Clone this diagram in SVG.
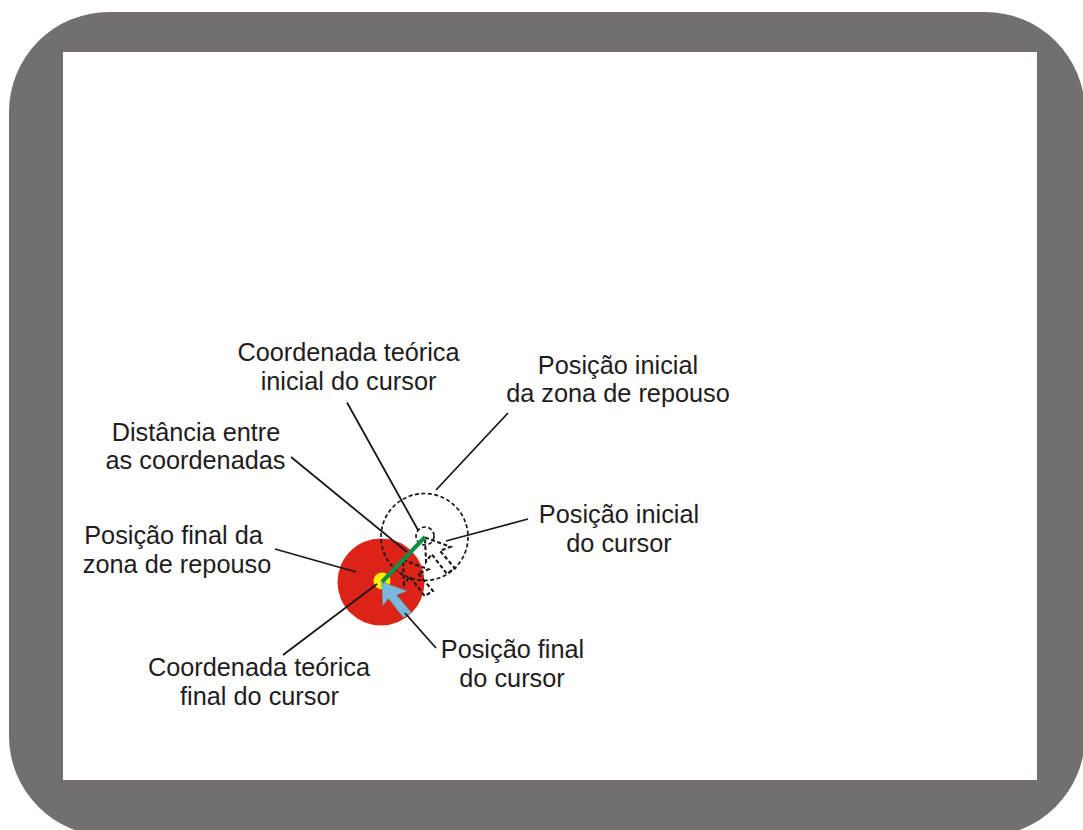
<svg xmlns="http://www.w3.org/2000/svg" width="1083" height="830" viewBox="0 0 1083 830">
<style>
text{font-family:"Liberation Sans",Arial,sans-serif;font-size:25.300px;fill:#1f1c1d;text-anchor:middle}
.c{stroke:#1a1718;stroke-width:1.800;fill:none}
.d{stroke:#1a1718;stroke-width:1.700;stroke-dasharray:4 2.500;fill:none}
.k{stroke:#1a1718;stroke-width:2.100;stroke-dasharray:4 2.500;fill:none}
</style>
<defs><path id="cur" d="M0 0L25.500 9.300L15 13.300L30 31L21.700 36L6.700 16.700L1 24.300Z"/></defs>
<g id="frame"><rect x="9" y="12" width="1076" height="824" rx="100" ry="100" fill="#736f70"/><rect x="63" y="52" width="974" height="728" fill="#fff"/></g>
<g id="zona-final"><circle cx="381" cy="582" r="43.500" fill="#dc2318"/></g>
<g id="zona-inicial"><circle cx="424.500" cy="537" r="43.500" class="d"/></g>
<g id="coord-inicial"><circle cx="425" cy="536" r="9" class="d"/></g>
<g id="coord-final"><circle cx="382" cy="581" r="8.500" fill="#ffed00"/></g>
<g id="cursor-inicial"><use href="#cur" x="425" y="537.500" class="k"/></g>
<g id="cursor-intermedio"><use href="#cur" x="403" y="560" class="k"/></g>
<g id="cursor-final"><use href="#cur" x="381.700" y="581.700" fill="#7ab8dc" stroke="#777" stroke-width=".5"/></g>
<g id="connectors">
<path class="c" d="M347 402.500L418 530M508 413L436 490M291 457L407 552M528 519L446 541M275 549L356 572M377 584L283 655M405 613L436 648"/>
<path d="M425 537L382 582" stroke="#0f8f45" stroke-width="4" fill="none"/>
</g>
<g id="labels">
<text x="348.500" y="361">Coordenada teórica</text>
<text x="348.500" y="390">inicial do cursor</text>
<text x="618" y="374">Posição inicial</text>
<text x="618" y="402">da zona de repouso</text>
<text x="196" y="441">Distância entre</text>
<text x="195.500" y="469">as coordenadas</text>
<text x="173.500" y="544">Posição final da</text>
<text x="177" y="573">zona de repouso</text>
<text x="619" y="523">Posição inicial</text>
<text x="619" y="552">do cursor</text>
<text x="259" y="676">Coordenada teórica</text>
<text x="259.500" y="705">final do cursor</text>
<text x="512.500" y="658">Posição final</text>
<text x="512" y="687">do cursor</text>
</g>
</svg>
